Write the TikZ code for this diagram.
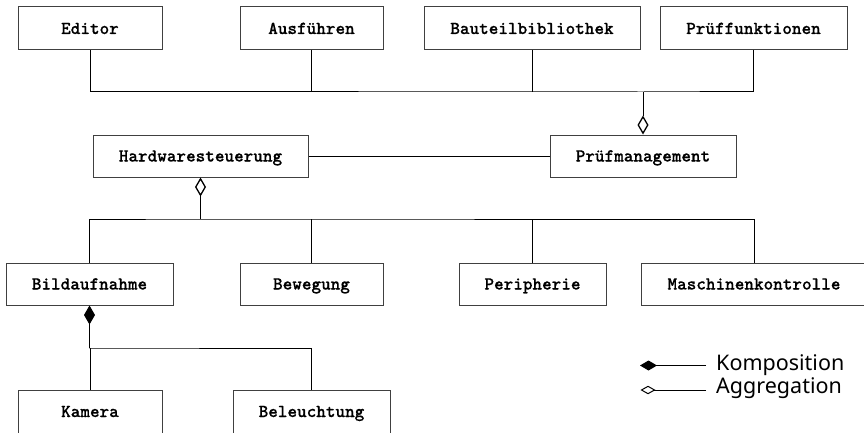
\documentclass[tikz,border=0pt]{standalone}
\usepackage{fontspec}
\newfontfamily\legendfont{Noto Sans}
\newfontfamily\boxfont{lmmonolt10-bold}[Extension=.otf, FakeBold=0.5]
\usetikzlibrary{arrows.meta}

\tikzset{
  cls/.style={draw=black!75, line width=1pt, fill=white, inner sep=0pt,
              minimum height=43pt, text height=13pt, text depth=2pt,
              font=\boxfont\fontsize{18.3}{20}\selectfont},
  link/.style={draw=black, line width=1pt},
  aggr/.style={link, -{Diamond[open, length=19pt, width=11pt, line width=1.3pt]}},
  comp/.style={link, -{Diamond[length=19pt, width=11pt]}},
  legaggr/.style={link, -{Diamond[open, length=15pt, width=8.5pt, line width=1pt]}},
  legcomp/.style={link, -{Diamond[length=17pt, width=10pt]}},
  legtext/.style={anchor=base west, inner sep=0pt, font=\legendfont\fontsize{21.5}{24}\selectfont}
}

\begin{document}
\begin{tikzpicture}[x=1pt, y=-1pt]
  \useasboundingbox (0,0) rectangle (864,433);
  \clip (0,0) rectangle (864,433);

  % top row: tools aggregated by the test management
  \node[cls, minimum width=144pt] (edi) at (90,28.5)  {Editor};
  \node[cls, minimum width=143pt] (aus) at (311.5,28.5) {Ausführen};
  \node[cls, minimum width=216pt] (bau) at (532,28.5) {Bauteilbibliothek};
  \node[cls, minimum width=187pt] (pf)  at (753.5,28.5) {Prüffunktionen};

  % middle row
  \node[cls, minimum width=215pt, minimum height=42pt] (hw) at (200.5,156) {Hardwaresteuerung};
  \node[cls, minimum width=186pt, minimum height=42pt] (pm) at (643,156) {Prüfmanagement};

  % hardware modules
  \node[cls, minimum width=167pt, minimum height=42pt] (bild)  at (89.5,284) {Bildaufnahme};
  \node[cls, minimum width=143pt, minimum height=42pt] (bew)   at (311.5,284) {Bewegung};
  \node[cls, minimum width=147pt, minimum height=42pt] (peri)  at (532.5,284) {Peripherie};
  \node[cls, minimum width=226pt, minimum height=42pt] (masch) at (754,284) {Maschinenkontrolle};

  % image acquisition parts
  \node[cls, minimum width=144pt] (kam) at (90,411.5)  {Kamera};
  \node[cls, minimum width=157pt] (bel) at (311.5,411.5) {Beleuchtung};

  % bus junctions
  \coordinate (tb) at (643,92);
  \coordinate (mb) at (200.5,219);
  \coordinate (bb) at (89.5,348);

  % top bus into Prüfmanagement
  \draw[link] (edi.south) |- (tb) -| (pf.south);
  \draw[link] (aus.south) -- (aus.south |- tb);
  \draw[link] (bau.south) -- (bau.south |- tb);
  \draw[aggr] (tb) -- (pm.north);

  % Hardwaresteuerung -- Prüfmanagement
  \draw[link] (hw) -- (pm);

  % middle bus into Hardwaresteuerung
  \draw[link] (bild.north) |- (mb) -| (masch.north);
  \draw[link] (bew.north) -- (bew.north |- mb);
  \draw[link] (peri.north) -- (peri.north |- mb);
  \draw[aggr] (mb) -- (hw.south);

  % bottom bus into Bildaufnahme
  \draw[link] (kam.north) |- (bb) -| (bel.north);
  \draw[comp] (bb) -- (bild.south);

  % legend
  \coordinate (lk0) at (706,365.5);
  \coordinate (lk1) at (640,365.5);
  \coordinate (la0) at (706,390);
  \coordinate (la1) at (640.5,390);
  \draw[legcomp] (lk0) -- (lk1);
  \draw[legaggr] (la0) -- (la1);
  \node[legtext] (tk) at (716,370.5) {Komposition};
  \node[legtext] (ta) at (716,393.5) {Aggregation};
\end{tikzpicture}
\end{document}
